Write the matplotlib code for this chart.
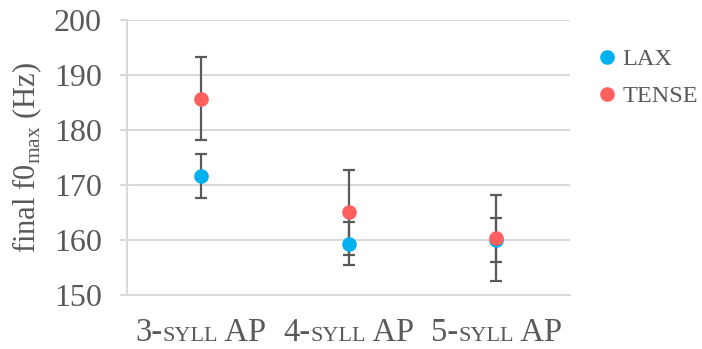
import matplotlib
matplotlib.use("Agg")
import matplotlib.pyplot as plt
from matplotlib.offsetbox import TextArea, HPacker, AnnotationBbox

plt.rcParams["font.family"] = ["Liberation Serif", "DejaVu Serif"]
plt.rcParams["mathtext.fontset"] = "custom"
plt.rcParams["mathtext.rm"] = "Liberation Serif"

# Data
categories = ["3-syll AP", "4-syll AP", "5-syll AP"]
cat_prefix = ["3-", "4-", "5-"]
lax_mean = [171.6, 159.3, 160.0]
lax_err = [4.0, 3.9, 4.0]
tense_mean = [185.7, 165.0, 160.4]
tense_err = [7.6, 7.7, 7.8]
yticks = [150, 160, 170, 180, 190, 200]

TEXT = "#595959"
GRID = "#D9D9D9"
LAX_C = "#00B0F0"
TENSE_C = "#FF5F5F"

fig = plt.figure(figsize=(7.02, 3.49), dpi=100)
ax = fig.add_axes([0.181, 0.155, 0.631, 0.788])

x = list(range(len(categories)))
xs = [i + 0.5 for i in x]

for means, errs, col, lab in [(lax_mean, lax_err, LAX_C, "LAX"),
                              (tense_mean, tense_err, TENSE_C, "TENSE")]:
    ax.errorbar(xs, means, yerr=errs, fmt="none", ecolor="#595959",
                elinewidth=1.6, capsize=4.5, capthick=1.6, zorder=2)
    ax.plot(xs, means, "o", color=col, markersize=9.5, label=lab,
            linestyle="none", zorder=3)

ax.set_xlim(0, 3)
ax.set_ylim(150, 200)
ax.set_yticks(yticks)
ax.set_xticks([])
ax.yaxis.grid(True, color=GRID, linewidth=1.5, zorder=0)
ax.set_axisbelow(True)
for s in ["top", "right"]:
    ax.spines[s].set_visible(False)
ax.spines["left"].set_color(GRID)
ax.spines["left"].set_linewidth(1.5)
ax.spines["bottom"].set_color(GRID)
ax.spines["bottom"].set_linewidth(1.5)
ax.tick_params(axis="y", colors=GRID, length=5, width=1.5, labelsize=23,
               labelcolor=TEXT, pad=13)

ax.set_ylabel(r"final f0$_{\mathregular{max}}$ (Hz)", fontsize=22,
              color=TEXT, labelpad=7)

# Category labels with small-caps "SYLL"
for xi, pre in zip(xs, cat_prefix):
    parts = [TextArea(pre, textprops=dict(fontsize=23.5, color=TEXT)),
             TextArea("SYLL", textprops=dict(fontsize=16, color=TEXT)),
             TextArea(" AP", textprops=dict(fontsize=23.5, color=TEXT))]
    box = HPacker(children=parts, align="baseline", pad=0, sep=0)
    ab = AnnotationBbox(box, (xi, 0), xycoords=("data", "axes fraction"),
                        xybox=(0, -16), boxcoords="offset points",
                        box_alignment=(0.5, 1.0), frameon=False)
    ax.add_artist(ab)

leg = ax.legend(loc="upper left", bbox_to_anchor=(0.83, 0.897),
                bbox_transform=fig.transFigure, frameon=False,
                fontsize=17.5, handletextpad=0.15, labelspacing=0.62,
                handlelength=1.0, borderpad=0, markerscale=1.0)
for t in leg.get_texts():
    t.set_color(TEXT)

fig.savefig("out.png", dpi=100)
